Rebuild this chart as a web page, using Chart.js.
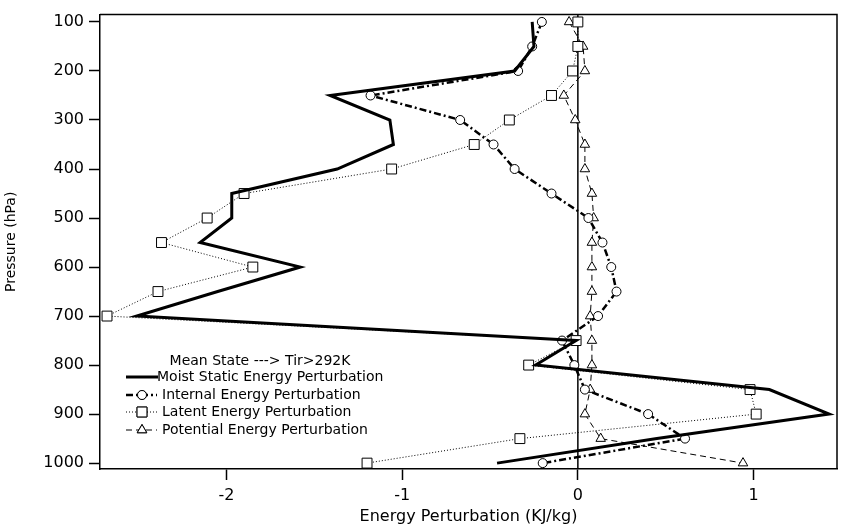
<!DOCTYPE html>
<html>
<head>
<meta charset="utf-8">
<script src="https://cdn.jsdelivr.net/npm/chart.js@4"></script>
<style>
    body { margin: 0; background: #fff; }
    canvas { display: block; }
</style>
</head>
<body>
<canvas id="chart" width="845" height="529"></canvas>
<script>
// pressure levels (hPa)
const pressure = [100, 150, 200, 250, 300, 350, 400, 450, 500, 550, 600, 650, 700, 750, 800, 850, 900, 950, 1000];

// energy perturbation (KJ/kg)
const moistStatic = [-0.26, -0.25, -0.36, -1.41, -1.07, -1.05, -1.37, -1.97, -1.97, -2.15, -1.58, -2.05, -2.51, -0.01, -0.24, 1.09, 1.43, 0.45, -0.46];
const internal = [-0.205, -0.26, -0.34, -1.18, -0.67, -0.48, -0.36, -0.15, 0.06, 0.14, 0.19, 0.22, 0.115, -0.09, -0.02, 0.04, 0.40, 0.61, -0.20];
const latent = [0.00, 0.00, -0.03, -0.15, -0.39, -0.59, -1.06, -1.90, -2.11, -2.37, -1.85, -2.39, -2.68, -0.01, -0.28, 0.98, 1.015, -0.33, -1.20];
const potential = [-0.05, 0.03, 0.04, -0.08, -0.015, 0.04, 0.04, 0.08, 0.09, 0.08, 0.08, 0.08, 0.07, 0.08, 0.08, 0.07, 0.04, 0.13, 0.94];

const xTicks = [-2, -1, 0, 1];
const yTicks = [100, 200, 300, 400, 500, 600, 700, 800, 900, 1000];
const legendTitle = 'Mean State ---> Tir>292K';

const FONT = 'DejaVu Sans';

function toPoints(values) {
    return values.map((v, i) => ({x: v, y: pressure[i]}));
}

// zero line, frame and the legend box inside the plot
const extras = {
    id: 'extras',
    beforeDatasetsDraw(chart) {
        const ctx = chart.ctx;
        const a = chart.chartArea;
        const x0 = chart.scales.x.getPixelForValue(0);
        ctx.save();
        ctx.strokeStyle = '#000';
        ctx.lineWidth = 1.5;
        ctx.beginPath();
        ctx.moveTo(x0, a.top);
        ctx.lineTo(x0, a.bottom);
        ctx.stroke();
        ctx.beginPath();
        ctx.moveTo(a.left, a.top);
        ctx.lineTo(a.right, a.top);
        ctx.lineTo(a.right, a.bottom);
        ctx.stroke();
        ctx.restore();
    },
    afterDraw(chart) {
        const ctx = chart.ctx;
        ctx.save();
        ctx.fillStyle = '#000';
        ctx.font = '14px "' + FONT + '"';
        ctx.textBaseline = 'middle';
        ctx.textAlign = 'center';
        ctx.fillText(legendTitle, 260, 361);
        ctx.textAlign = 'left';
        const rows = [377, 395, 412, 430];
        chart.data.datasets.forEach((ds, i) => {
            const y = rows[i];
            ctx.save();
            ctx.strokeStyle = ds.borderColor;
            ctx.lineWidth = ds.borderWidth;
            ctx.setLineDash(ds.borderDash || []);
            ctx.beginPath();
            ctx.moveTo(126, y);
            ctx.lineTo(ds.pointRadius > 0 ? 157 : 158, y);
            ctx.stroke();
            ctx.restore();
            if (ds.pointRadius > 0) {
                ctx.save();
                ctx.fillStyle = '#fff';
                ctx.strokeStyle = '#000';
                ctx.lineWidth = 1;
                Chart.helpers.drawPoint(ctx, {pointStyle: ds.pointStyle, radius: ds.pointRadius, borderWidth: 1}, 142, y);
                ctx.fill();
                ctx.stroke();
                ctx.restore();
            }
            ctx.fillText(ds.label, ds.pointRadius > 0 ? 162 : 157, y);
        });
        ctx.restore();
    }
};

new Chart(document.getElementById('chart'), {
    type: 'scatter',
    data: {
        datasets: [{
                label: 'Moist Static Energy Perturbation',
                data: toPoints(moistStatic),
                showLine: true,
                borderColor: '#000',
                borderWidth: 3,
                pointRadius: 0
            }, {
                label: 'Internal Energy Perturbation',
                data: toPoints(internal),
                showLine: true,
                borderColor: '#000',
                borderWidth: 2.5,
                borderDash: [7, 3, 2, 3],
                pointStyle: 'circle',
                pointRadius: 4.5,
                pointBackgroundColor: '#fff',
                pointBorderColor: '#000',
                pointBorderWidth: 1
            }, {
                label: 'Latent Energy Perturbation',
                data: toPoints(latent),
                showLine: true,
                borderColor: '#000',
                borderWidth: 1,
                borderDash: [1, 2],
                pointStyle: 'rect',
                pointRadius: 7,
                pointBackgroundColor: '#fff',
                pointBorderColor: '#000',
                pointBorderWidth: 1
            }, {
                label: 'Potential Energy Perturbation',
                data: toPoints(potential),
                showLine: true,
                borderColor: '#000',
                borderWidth: 1,
                borderDash: [6, 4],
                pointStyle: 'triangle',
                pointRadius: 5.5,
                pointBackgroundColor: '#fff',
                pointBorderColor: '#000',
                pointBorderWidth: 1
            }]
    },
    options: {
        responsive: false,
        animation: false,
        layout: {padding: {left: 0, right: 2, top: 8, bottom: 0}},
        plugins: {
            legend: {display: false},
            tooltip: {enabled: false}
        },
        scales: {
            x: {
                type: 'linear',
                min: -2.72,
                max: 1.475,
                afterBuildTicks: s => { s.ticks = xTicks.map(v => ({value: v})); },
                afterFit: s => { s.height = 60; },
                grid: {drawOnChartArea: false, drawTicks: true, tickLength: 11, color: '#000', tickWidth: 1.5},
                border: {display: true, color: '#000', width: 1.5},
                ticks: {color: '#000', padding: 6, font: {family: FONT, size: 16}, callback: v => String(v)},
                title: {display: true, text: 'Energy Perturbation (KJ/kg)', color: '#000', font: {family: FONT, size: 16}, padding: {top: 0, bottom: 3}}
            },
            y: {
                type: 'linear',
                reverse: true,
                min: 85,
                max: 1012,
                afterBuildTicks: s => { s.ticks = yTicks.map(v => ({value: v})); },
                afterFit: s => { s.width = 100; },
                grid: {drawOnChartArea: false, drawTicks: true, tickLength: 11, color: '#000', tickWidth: 1.5},
                border: {display: true, color: '#000', width: 1.5},
                ticks: {color: '#000', padding: 5, font: {family: FONT, size: 16}, callback: v => String(v)},
                title: {display: true, text: 'Pressure (hPa)', color: '#000', font: {family: FONT, size: 14}, padding: {top: 3, bottom: 0}}
            }
        }
    },
    plugins: [extras]
});
</script>
</body>
</html>
